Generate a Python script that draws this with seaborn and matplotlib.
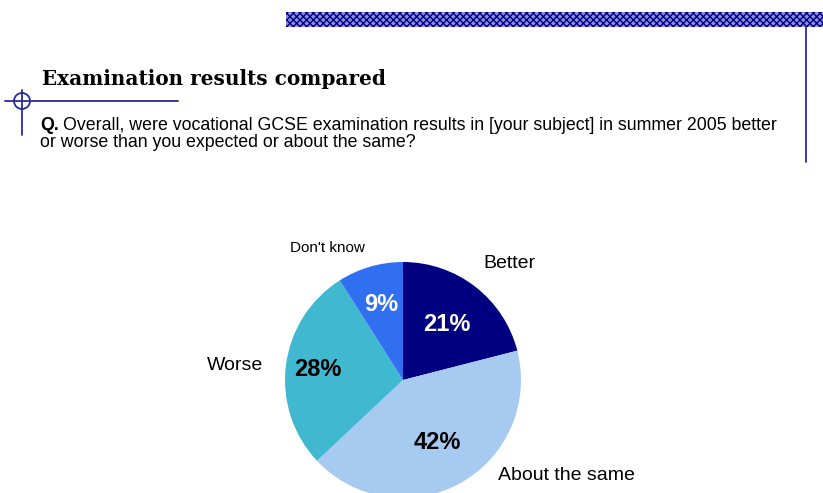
import matplotlib
matplotlib.use("Agg")
import matplotlib.pyplot as plt
import matplotlib.transforms as mtransforms
import seaborn as sns
from matplotlib.patches import Rectangle, Circle
from matplotlib.lines import Line2D

# data
categories = ["Better", "About the same", "Worse", "Don't know"]
values = [21, 42, 28, 9]
colors = ["#000080", "#A6CAF0", "#40B8D0", "#3070F0"]
pct_colors = ["white", "black", "black", "white"]

title = "Examination results compared"
question = ["Overall, were vocational GCSE examination results in [your subject] in summer 2005 better",
            "or worse than you expected or about the same?"]

sns.set_style("white")
plt.rcParams["font.family"] = ["Liberation Sans", "DejaVu Sans"]
plt.rcParams["text.color"] = "black"

W, H = 823, 493
fig = plt.figure(figsize=(W / 100, H / 100), dpi=100)


def fx(x):
    return x / W


def fy(y):
    return 1 - y / H


deco = "#2a2a9a"

# decorations
fig.patches.append(Rectangle((fx(286), fy(27)), fx(W) - fx(286), fy(12) - fy(27),
                             transform=fig.transFigure, facecolor="#9090d0",
                             edgecolor="#000090", hatch="xxxxx", linewidth=0))
fig.lines.append(Line2D([fx(806), fx(806)], [fy(27), fy(162)], transform=fig.transFigure,
                        color=deco, lw=1.3))
fig.lines.append(Line2D([fx(5), fx(178)], [fy(101), fy(101)], transform=fig.transFigure,
                        color=deco, lw=1.3))
fig.lines.append(Line2D([fx(22), fx(22)], [fy(90), fy(135)], transform=fig.transFigure,
                        color=deco, lw=1.3))
fig.patches.append(Circle((22, H - 101), 8, transform=mtransforms.IdentityTransform(),
                          fill=False, edgecolor=deco, lw=1.3))

fig.text(fx(42), fy(79), title, family="DejaVu Serif",
         fontweight="bold", fontsize=14.4, va="center", ha="left")
q = fig.text(fx(40), fy(125), "Q.", fontweight="bold", fontsize=12.8,
             va="center", ha="left")
fig.canvas.draw()
qx = q.get_window_extent().x1
fig.text((qx + 4) / W, fy(125), question[0], fontsize=12.8, va="center", ha="left")
fig.text(fx(40), fy(143), question[1], fontsize=12.8, va="center", ha="left")

# pie
r, cx, cy = 118, 403, 380
ax = fig.add_axes([fx(cx - r), fy(cy + r), 2 * r / W, 2 * r / H])
wedges, texts, autotexts = ax.pie(values, colors=colors, startangle=90, counterclock=False,
                                  autopct="%d%%", pctdistance=1.0,
                                  wedgeprops=dict(linewidth=0))
ax.set_xlim(-1, 1)
ax.set_ylim(-1, 1)
ax.set_aspect("equal")
ax.axis("off")
pct_dist = [0.60, 0.60, 0.73, 0.67]
for t, c, d in zip(autotexts, pct_colors, pct_dist):
    x, y = t.get_position()
    t.set_position((x * d, y * d))
    t.set_color(c)
    t.set_fontweight("bold")
    t.set_fontsize(17)

label_pos = [(483, 264, 14), (498, 475, 14), (207, 366, 14), (290, 248, 11)]
for name, (x, y, s) in zip(categories, label_pos):
    fig.text(fx(x), fy(y), name, fontsize=s, va="center", ha="left")

fig.savefig("out.png", dpi=100)
